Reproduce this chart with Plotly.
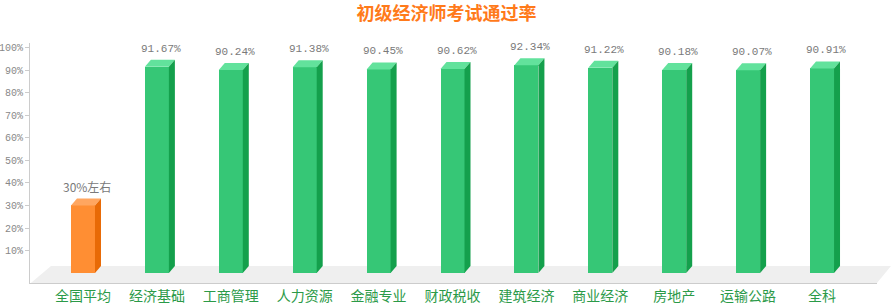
import plotly.graph_objects as go

categories = ["全国平均", "经济基础", "工商管理", "人力资源", "金融专业", "财政税收",
              "建筑经济", "商业经济", "房地产", "运输公路", "全科"]
pass_rates = [30, 91.67, 90.24, 91.38, 90.45, 90.62, 92.34, 91.22, 90.18, 90.07, 90.91]
value_labels = ["30%左右", "91.67%", "90.24%", "91.38%", "90.45%", "90.62%",
                "92.34%", "91.22%", "90.18%", "90.07%", "90.91%"]
y_ticks = [10, 20, 30, 40, 50, 60, 70, 80, 90, 100]
y_tick_labels = [f"{t}%" for t in y_ticks]

W, H = 893, 307
ML, MR, MT, MB = 30, 16, 43, 24
Y_MIN, Y_MAX = -4.44, 102.2
px_per_unit = (H - MT - MB) / (Y_MAX - Y_MIN)

HALF = 12      # half width of front face (px)
DX = 6         # depth in px (x)
DY = 7 / px_per_unit  # depth in data units (y)

orange = dict(front="#ff8e33", side="#e86a06", top="#ffa660")
green = dict(front="#36c776", side="#14a04c", top="#62e29c")

n = len(categories)
X_MIN, X_MAX = -0.717, 10.744
cat_spacing = (W - ML - MR) / (X_MAX - X_MIN)
bar_width = 2 * HALF / cat_spacing

front_colors = [orange["front"] if i == 0 else green["front"] for i in range(n)]

fig = go.Figure()
fig.add_trace(go.Bar(
    x=list(range(n)), y=pass_rates, width=bar_width,
    marker=dict(color=front_colors, line=dict(width=0)),
    hoverinfo="skip",
))

shapes = []
# floor
shapes.append(dict(
    type="path", xref="paper", yref="y", layer="below",
    path=f"M 0.001,{Y_MIN} L 1.0,{Y_MIN} L 1.0165,3.1 L 0.0248,3.1 Z",
    fillcolor="#efefef", line=dict(width=0),
))
for i, v in enumerate(pass_rates):
    pal = orange if i == 0 else green
    shapes.append(dict(
        type="path", xref="x", yref="y", xsizemode="pixel", xanchor=i,
        path=f"M {-HALF},{v} L {HALF},{v} L {HALF + DX},{v + DY} L {-HALF + DX},{v + DY} Z",
        fillcolor=pal["top"], line=dict(width=0),
    ))
    shapes.append(dict(
        type="path", xref="x", yref="y", xsizemode="pixel", xanchor=i,
        path=f"M {HALF},{v} L {HALF + DX},{v + DY} L {HALF + DX},{DY} L {HALF},0 Z",
        fillcolor=pal["side"], line=dict(width=0),
    ))

annotations = []
for i, (v, lab) in enumerate(zip(pass_rates, value_labels)):
    annotations.append(dict(
        x=i, y=v, xref="x", yref="y", text=lab, showarrow=False,
        xshift=4, yshift=18 if i else 19, yanchor="middle",
        font=dict(family="Liberation Mono, DejaVu Sans Mono, monospace" if i else
                  "Noto Sans CJK SC, sans-serif",
                  size=11 if i else 12, color="#7a7a7a"),
    ))

fig.update_layout(
    width=W, height=H,
    margin=dict(l=ML, r=MR, t=MT, b=MB, autoexpand=False),
    paper_bgcolor="white", plot_bgcolor="white",
    showlegend=False, bargap=0,
    title=dict(text="初级经济师考试通过率", x=0.5, xref="container", xanchor="center",
               y=1 - 14 / H, yref="container", yanchor="middle",
               font=dict(family="Noto Sans CJK SC, sans-serif", size=18,
                         color="#ff7a1a", weight="bold")),
    xaxis=dict(
        range=[X_MIN, X_MAX], tickmode="array", tickvals=list(range(n)),
        ticktext=categories, showgrid=False, zeroline=False, automargin=False,
        showline=True, linecolor="#cccccc", linewidth=1, ticks="",
        tickfont=dict(family="Noto Sans CJK SC, sans-serif", size=14, color="#2b9a48"),
        fixedrange=True,
    ),
    yaxis=dict(
        range=[Y_MIN, Y_MAX], tickmode="array", tickvals=y_ticks, ticktext=y_tick_labels,
        showgrid=False, zeroline=False, showline=True, linecolor="#cccccc", linewidth=1,
        ticks="outside", ticklen=4, tickcolor="#cccccc", automargin=False,
        tickfont=dict(family="Liberation Mono, DejaVu Sans Mono, monospace", size=10,
                      color="#888888"),
        fixedrange=True,
    ),
    shapes=shapes,
    annotations=annotations,
)

fig.write_html("out.html")
